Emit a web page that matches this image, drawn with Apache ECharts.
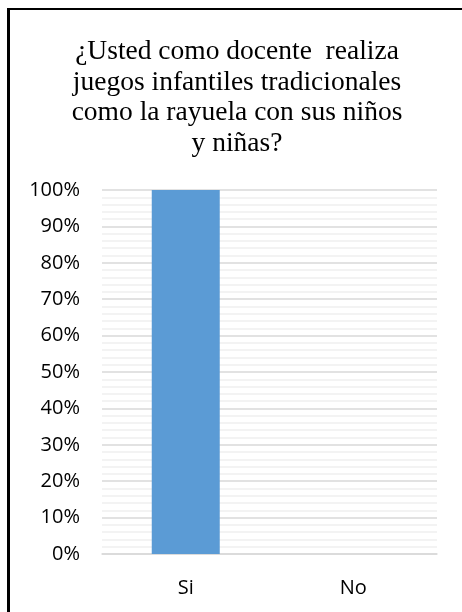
<!DOCTYPE html>
<html><head><meta charset="utf-8">
<script src="https://cdn.jsdelivr.net/npm/echarts@6/dist/echarts.min.js"></script>
<style>html,body{margin:0;padding:0;background:#fff}#c{width:462px;height:612px}</style>
</head><body><div id="c"></div>
<script>
const categories = ['Si', 'No'];
const values = [100, 0];
const titleText = '¿Usted como docente  realiza\njuegos infantiles tradicionales\ncomo la rayuela con sus niños\ny niñas?';

const chart = echarts.init(document.getElementById('c'), null, {renderer: 'canvas'});
chart.setOption({
  animation: false,
  title: {
    text: titleText,
    left: 232, top: 32, textAlign: 'center',
    textStyle: {fontFamily: 'Liberation Serif', fontSize: 27.5, fontWeight: 'normal', color: '#000', lineHeight: 30.5}
  },
  graphic: [
    {type: 'line', shape: {x1: 8.5, y1: 9, x2: 462, y2: 9}, style: {stroke: '#000', lineWidth: 2}},
    {type: 'line', shape: {x1: 8.5, y1: 8, x2: 8.5, y2: 612}, style: {stroke: '#000', lineWidth: 3}}
  ],
  grid: {left: 102, right: 25, top: 190, bottom: 58, containLabel: false},
  xAxis: {
    type: 'category', data: categories,
    axisLine: {show: true, lineStyle: {color: '#d9d9d9', width: 1.5}},
    axisTick: {show: false},
    axisLabel: {fontFamily: 'Open Sans', fontSize: 20, color: '#000', margin: 24}
  },
  yAxis: {
    type: 'value', min: 0, max: 100, interval: 10,
    axisLine: {show: false}, axisTick: {show: false},
    axisLabel: {formatter: '{value}%', fontFamily: 'Open Sans', fontSize: 20, color: '#000', margin: 22},
    splitLine: {show: true, lineStyle: {color: '#d9d9d9', width: 1.5}},
    minorTick: {show: false, splitNumber: 5},
    minorSplitLine: {show: true, lineStyle: {color: '#efefef', width: 1.5}}
  },
  series: [{
    type: 'bar', data: values, barWidth: 68,
    itemStyle: {color: '#5b9bd5'}
  }]
});
</script>
</body></html>
